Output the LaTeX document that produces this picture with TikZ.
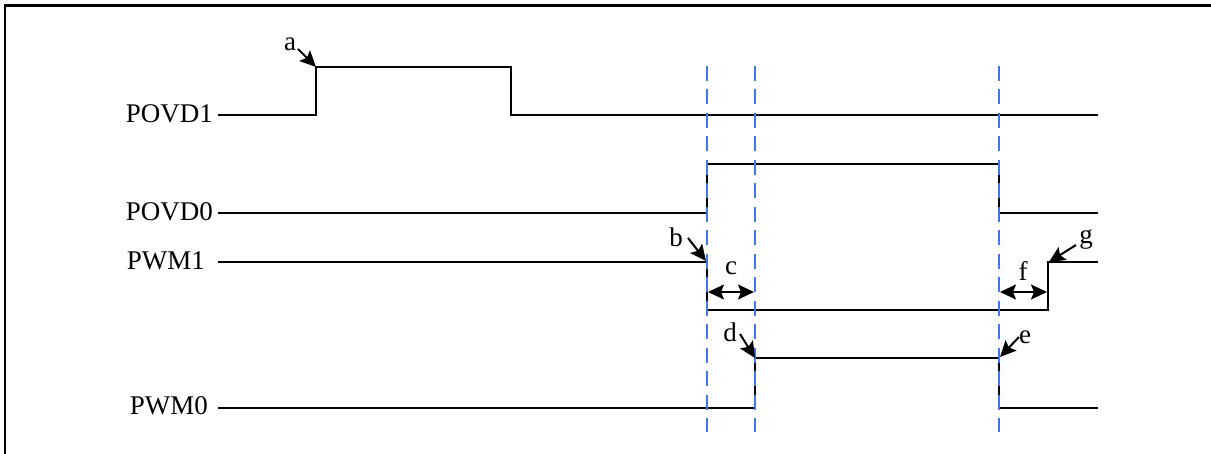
\documentclass[tikz,border=0pt]{standalone}
\usepackage{fontspec}
\setmainfont{Liberation Serif}
\usetikzlibrary{arrows.meta}
\definecolor{guideblue}{RGB}{66,118,240}
\tikzset{
  sig/.style={line width=2pt, line join=miter},
  guide/.style={guideblue, line width=2pt, dash pattern=on 15pt off 8.5pt},
  lbl/.style={inner sep=0pt, font=\fontsize{27}{30}\selectfont},
  headtip/.tip={Stealth[length=16pt,width=15pt,inset=3pt]},
  pointer/.style={line width=2pt, -headtip},
  span/.style={line width=2pt, headtip-headtip},
}
\begin{document}
\begin{tikzpicture}[x=1pt,y=-1pt]
\useasboundingbox (0,0) rectangle (1211,454);
\clip (0,0) rectangle (1211,454);
% frame
\draw[line width=2.5pt] (5,5.5) rectangle (1230,480);

% guide lines
\coordinate (g1t) at (707,66); \coordinate (g1b) at (707,432);
\coordinate (g2t) at (755,66); \coordinate (g2b) at (755,432);
\coordinate (g3t) at (999,66); \coordinate (g3b) at (999,432);

% signal labels
\node[lbl, anchor=base east] (povd1) at (213,123) {POVD1};
\node[lbl, anchor=base east] (povd0) at (213,221) {POVD0};
\node[lbl, anchor=base east] (pwm1)  at (205,270) {PWM1};
\node[lbl, anchor=base east] (pwm0)  at (208,415) {PWM0};

% waveforms
\draw[sig] (218,115.5) -- (316,115.5) -- (316,67) -- (511,67) -- (511,115.5) -- (1098,115.5);
\draw[sig] (218,213) -- (707,213) -- (707,164) -- (999,164) -- (999,213) -- (1098,213);
\draw[sig] (218,262) -- (707,262) -- (707,310) -- (1048,310) -- (1048,262) -- (1098,262);
\draw[sig] (218,408) -- (755,408) -- (755,358) -- (999,358) -- (999,408) -- (1098,408);

\draw[guide] (g1t) -- (g1b);
\draw[guide] (g2t) -- (g2b);
\draw[guide] (g3t) -- (g3b);

% event markers
\coordinate (ta) at (316,67);
\coordinate (tb) at (706,261);
\coordinate (td) at (755,358);
\coordinate (te) at (1000,357);
\coordinate (tg) at (1049,262);
\coordinate (c1) at (708,292); \coordinate (c2) at (754,292);
\coordinate (f1) at (1000,292); \coordinate (f2) at (1047,292);

\node[lbl] (la) at (290,44) {a};
\node[lbl] (lb) at (676,237) {b};
\node[lbl] (lc) at (731,268) {c};
\node[lbl] (ld) at (730,332) {d};
\node[lbl] (le) at (1025,337) {e};
\node[lbl] (lf) at (1023,271) {f};
\node[lbl] (lg) at (1086,239) {g};

\draw[pointer] (298,49) -- (ta);
\draw[pointer] (688,238) -- (tb);
\draw[pointer] (740,334) -- (td);
\draw[pointer] (1019,337) -- (te);
\draw[pointer] (1076,245) -- (tg);
\draw[span] (c1) -- (c2);
\draw[span] (f1) -- (f2);
\end{tikzpicture}
\end{document}
